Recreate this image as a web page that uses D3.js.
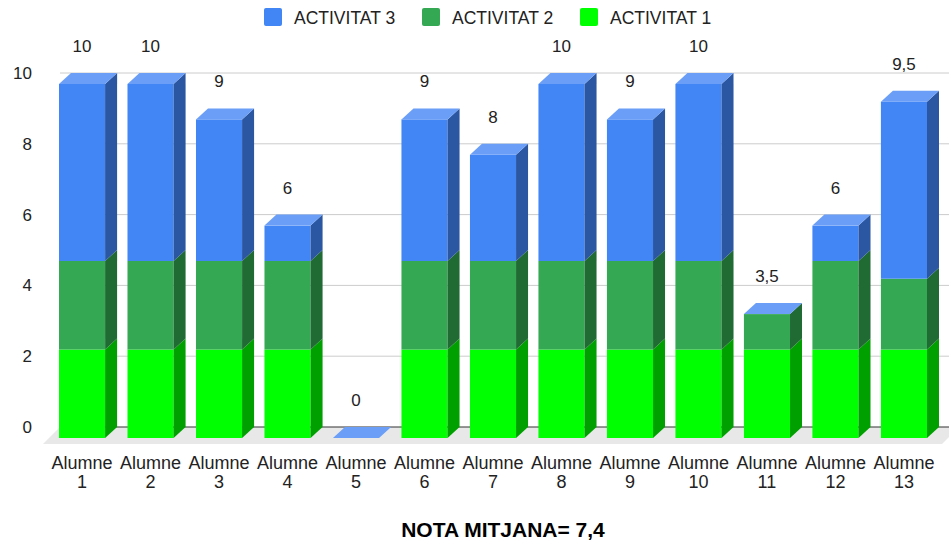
<!DOCTYPE html>
<html>
<head>
<meta charset="utf-8">
<script src="https://cdn.jsdelivr.net/npm/d3@7/dist/d3.min.js"></script>
<style>
  html, body { margin: 0; padding: 0; background: #fff; }
  svg { display: block; font-family: "Liberation Sans", Arial, sans-serif; }
</style>
</head>
<body>
<svg id="chart" width="949" height="542"></svg>
<script>
// Student names (two-line labels) and the score of each activity
const categories = ["Alumne 1", "Alumne 2", "Alumne 3", "Alumne 4", "Alumne 5", "Alumne 6", "Alumne 7",
                    "Alumne 8", "Alumne 9", "Alumne 10", "Alumne 11", "Alumne 12", "Alumne 13"];
const activitat1 = [2.5, 2.5, 2.5, 2.5, 0, 2.5, 2.5, 2.5, 2.5, 2.5, 2.5, 2.5, 2.5];
const activitat2 = [2.5, 2.5, 2.5, 2.5, 0, 2.5, 2.5, 2.5, 2.5, 2.5, 1, 2.5, 2];
const activitat3 = [5, 5, 4, 1, 0, 4, 3, 5, 4, 5, 0, 1, 5];
const seriesNames = ["ACTIVITAT 1", "ACTIVITAT 2", "ACTIVITAT 3"];
const yTicks = [0, 2, 4, 6, 8, 10];
const title = "NOTA MITJANA= 7,4";

// Face colours: front, side (shaded), top (lit)
const palette = [
  { front: "#00ff00", side: "#00a000", top: "#66ff66" },
  { front: "#34a853", side: "#206a34", top: "#5cbc77" },
  { front: "#4285f4", side: "#2a56a2", top: "#6a9ef7" }
];

const svg = d3.select("#chart");
const W = 949;

// 3D extrusion offset (back plane is shifted right and up)
const DX = 12, DY = 11;

// Front-plane scales
const x = d3.scaleBand().domain(categories).range([59, 927]).paddingInner(0.327).paddingOuter(0);
const yBack = d3.scaleLinear().domain([0, 10]).range([427, 73]);
const yFront = v => yBack(v) + DY;

const rows = categories.map((c, i) => {
  const vals = [activitat1[i], activitat2[i], activitat3[i]];
  let acc = 0;
  const segs = vals.map((v, s) => { const y0 = acc; acc += v; return { s, y0, y1: acc }; });
  return { c, segs, total: acc };
});

// Grid lines on the back wall
svg.append("g").selectAll("line").data(yTicks.filter(t => t > 0)).join("line")
  .attr("x1", 60).attr("x2", W).attr("y1", d => yBack(d)).attr("y2", d => yBack(d))
  .attr("stroke", "#cccccc").attr("stroke-width", 1);

// Floor
const fy0 = yBack(0);
svg.append("path")
  .attr("d", `M60,${fy0} L${W + 10},${fy0} L${W - 7},${fy0 + 17} L43,${fy0 + 17} Z`)
  .attr("fill", "#e8e8e8");
svg.append("line").attr("x1", 60).attr("x2", W).attr("y1", fy0).attr("y2", fy0)
  .attr("stroke", "#333").attr("stroke-width", 1.2);

// Y tick labels
svg.append("g").selectAll("text").data(yTicks).join("text")
  .attr("x", 32).attr("y", d => yBack(d)).attr("dy", "0.35em")
  .attr("text-anchor", "end").attr("font-size", 17).attr("fill", "#222")
  .text(d => d);

// Bars
const bw = x.bandwidth();
const bars = svg.append("g").selectAll("g").data(rows).join("g");
bars.each(function (r) {
  const g = d3.select(this);
  const x0 = x(r.c), x1 = x0 + bw;
  r.segs.forEach(seg => {
    const c = palette[seg.s];
    const yt = yFront(seg.y1), yb = yFront(seg.y0);
    if (seg.y1 > seg.y0) {
      g.append("rect").attr("x", x0).attr("y", yt).attr("width", bw).attr("height", yb - yt)
        .attr("fill", c.front);
      g.append("path")
        .attr("d", `M${x1},${yt} L${x1 + DX},${yt - DY} L${x1 + DX},${yb - DY} L${x1},${yb} Z`)
        .attr("fill", c.side);
    }
  });
  // Lid of the stack in the top series colour
  const c = palette[2];
  const yt = yFront(r.total);
  g.append("path")
    .attr("d", `M${x0},${yt} L${x0 + DX},${yt - DY} L${x1 + DX},${yt - DY} L${x1},${yt} Z`)
    .attr("fill", c.top);
});

// Totals above each bar
const fmt = v => String(v).replace(".", ",");
svg.append("g").selectAll("text").data(rows).join("text")
  .attr("x", d => x(d.c) + bw / 2).attr("y", d => yBack(d.total) - 21)
  .attr("text-anchor", "middle").attr("font-size", 17).attr("fill", "#222")
  .text(d => fmt(d.total));

// Category labels on two lines
const cat = svg.append("g").selectAll("text").data(categories).join("text")
  .attr("x", d => x(d) + bw / 2).attr("y", 469)
  .attr("text-anchor", "middle").attr("font-size", 18).attr("fill", "#222");
cat.append("tspan").attr("x", d => x(d) + bw / 2).text(d => d.split(" ")[0]);
cat.append("tspan").attr("x", d => x(d) + bw / 2).attr("dy", 19).text(d => d.split(" ")[1]);

// Legend (top series first)
const legendOrder = [2, 1, 0];
const lg = svg.append("g").selectAll("g").data(legendOrder).join("g")
  .attr("transform", (d, i) => `translate(${264 + i * 158},8)`);
lg.append("rect").attr("width", 18).attr("height", 18).attr("rx", 2)
  .attr("fill", d => palette[d].front);
lg.append("text").attr("x", 30).attr("y", 15.5).attr("font-size", 17.5).attr("fill", "#222")
  .text(d => seriesNames[d]);

// Title below the chart
svg.append("text").attr("x", 503).attr("y", 537).attr("text-anchor", "middle")
  .attr("font-size", 21).attr("font-weight", "bold").attr("fill", "#000")
  .text(title);
</script>
</body>
</html>
